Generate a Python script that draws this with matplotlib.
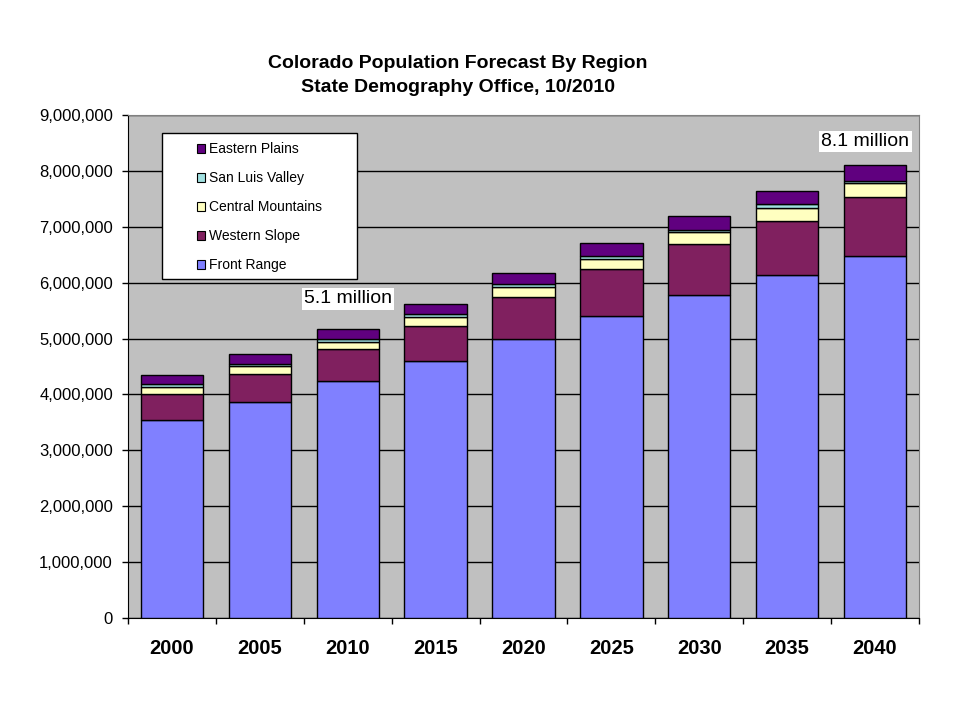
import numpy as np
import matplotlib
matplotlib.use('Agg')
from matplotlib import pyplot as plt
from matplotlib import ticker
from matplotlib.patches import Patch, Rectangle

plt.rcParams['font.family'] = ['Liberation Sans', 'DejaVu Sans']

# population by region
years = ['2000', '2005', '2010', '2015', '2020', '2025', '2030', '2035', '2040']
front_range = [3540000, 3860000, 4235000, 4590000, 5000000, 5400000, 5780000, 6130000, 6470000]
western_slope = [460000, 510000, 573000, 640000, 740000, 840000, 910000, 980000, 1055000]
central_mountains = [133000, 132000, 136000, 160000, 180000, 180000, 210000, 233000, 250000]
san_luis_valley = [50000, 48000, 40000, 54000, 54000, 65000, 50000, 70000, 52000]
eastern_plains = [160000, 168000, 185000, 168000, 196000, 220000, 238000, 233000, 270000]

regions = ['Front Range', 'Western Slope', 'Central Mountains', 'San Luis Valley', 'Eastern Plains']
colors = ['#8080FF', '#80205F', '#FFFFC0', '#A0E0E0', '#60007F']
series = [front_range, western_slope, central_mountains, san_luis_valley, eastern_plains]

notes = ['5.1 million', '8.1 million']
note_x = [2.0, 7.89]
note_y = [5710000, 8530000]

fig = plt.figure(figsize=(9.6, 7.2), dpi=100)
ax = fig.add_axes([128/960, 102/720, 791/960, 503/720])
ax.set_facecolor('#C0C0C0')

x = np.arange(len(years))
bottom = np.zeros(len(years))
for vals, col, name in zip(series, colors, regions):
    ax.bar(x, vals, 0.71, bottom=bottom, color=col, edgecolor='black', linewidth=1, label=name, zorder=3)
    bottom += np.array(vals)

ax.set_xlim(-0.5, len(years) - 0.5)
ax.set_ylim(0, 9000000)
ax.yaxis.set_major_locator(ticker.MultipleLocator(1000000))
ax.yaxis.set_major_formatter(ticker.FuncFormatter(lambda v, p: '{:,.0f}'.format(v)))
ax.grid(axis='y', color='black', linewidth=1, zorder=0)
ax.set_axisbelow(True)

ax.set_xticks(x)
ax.set_xticklabels(years, fontsize=14.5, fontweight='bold')
ax.set_xticks(np.arange(len(years) + 1) - 0.5, minor=True)
ax.tick_params(axis='x', which='major', length=0, pad=15)
ax.tick_params(axis='x', which='minor', length=4, width=1, direction='out')
ax.tick_params(axis='y', length=4.3, width=1, pad=6.5, labelsize=12)

for s in ['top', 'right']:
    ax.spines[s].set_color('#808080')
for s in ['left', 'bottom']:
    ax.spines[s].set_color('black')

for t, xx, yy in zip(notes, note_x, note_y):
    ax.text(xx, yy, t, fontsize=14, ha='center', va='center', zorder=5,
            bbox=dict(facecolor='white', edgecolor='none', pad=1.5))

# legend box
fig.patches.append(Rectangle((162/960, (720-279)/720), 195/960, 146/720,
                             transform=fig.transFigure, facecolor='white',
                             edgecolor='black', linewidth=1, zorder=4))
handles = [Patch(facecolor=c, edgecolor='black', linewidth=0.8) for c in colors][::-1]
leg = fig.legend(handles, regions[::-1], loc='upper left',
                 bbox_to_anchor=(197/960, (720-142)/720), frameon=False,
                 fontsize=10, handlelength=0.6, handleheight=0.6,
                 handletextpad=0.25, labelspacing=1.08, borderpad=0, borderaxespad=0)
leg.set_zorder(6)

fig.text(458/960, 1 - 63/720, 'Colorado Population Forecast By Region',
         fontsize=14, fontweight='bold', ha='center', va='center')
fig.text(458/960, 1 - 88/720, 'State Demography Office, 10/2010',
         fontsize=14, fontweight='bold', ha='center', va='center')

fig.savefig('out.png', dpi=100)
